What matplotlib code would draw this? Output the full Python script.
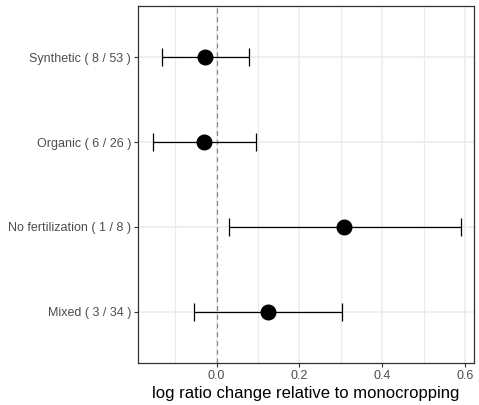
import numpy as np
import matplotlib.pyplot as plt

plt.rcParams['font.family'] = ['Liberation Sans', 'DejaVu Sans']

# data (top to bottom as in the picture)
labels = ['Synthetic ( 8 / 53 )', 'Organic ( 6 / 26 )', 'No fertilization ( 1 / 8 )', 'Mixed ( 3 / 34 )']
est = [-0.028, -0.031, 0.308, 0.124]
lower = [-0.132, -0.154, 0.030, -0.055]
upper = [0.078, 0.095, 0.591, 0.303]
xticks = [0.0, 0.2, 0.4, 0.6]

fig = plt.figure(figsize=(4.79, 4.05), dpi=100)
ax = fig.add_axes([0.288, 0.104, 0.702, 0.881])

ypos = np.arange(len(labels))[::-1] + 1
est = np.array(est)
err = np.array([est - np.array(lower), np.array(upper) - est])

ax.set_xlim(-0.19, 0.622)
ax.set_ylim(0.4, 4.6)

# grid (major + minor like ggplot theme_bw)
for x in np.arange(-0.1, 0.61, 0.1):
    ax.axvline(x, color='#ebebeb', lw=0.8 if round(x * 10) % 2 else 1.1, zorder=0)
for y in ypos:
    ax.axhline(y, color='#ebebeb', lw=1.1, zorder=0)

ax.axvline(0, color='#888888', lw=0.9, ls=(0, (4, 3)), zorder=1)

ax.errorbar(est, ypos, xerr=err, fmt='o', color='black', ms=10.5,
            elinewidth=0.9, capsize=6.8, capthick=0.9, zorder=3)

ax.set_xticks(xticks)
ax.set_xticklabels([f'{v:.1f}' for v in xticks])
ax.set_yticks(ypos)
ax.set_yticklabels(labels)
ax.tick_params(axis='both', colors='#333333', labelcolor='#4d4d4d', labelsize=9,
               length=3, width=0.8, pad=2)
ax.set_xlabel('log ratio change relative to monocropping', fontsize=12, color='black', labelpad=3)

for s in ax.spines.values():
    s.set_color('#333333')
    s.set_linewidth(0.9)

fig.savefig('out.png', dpi=100)
